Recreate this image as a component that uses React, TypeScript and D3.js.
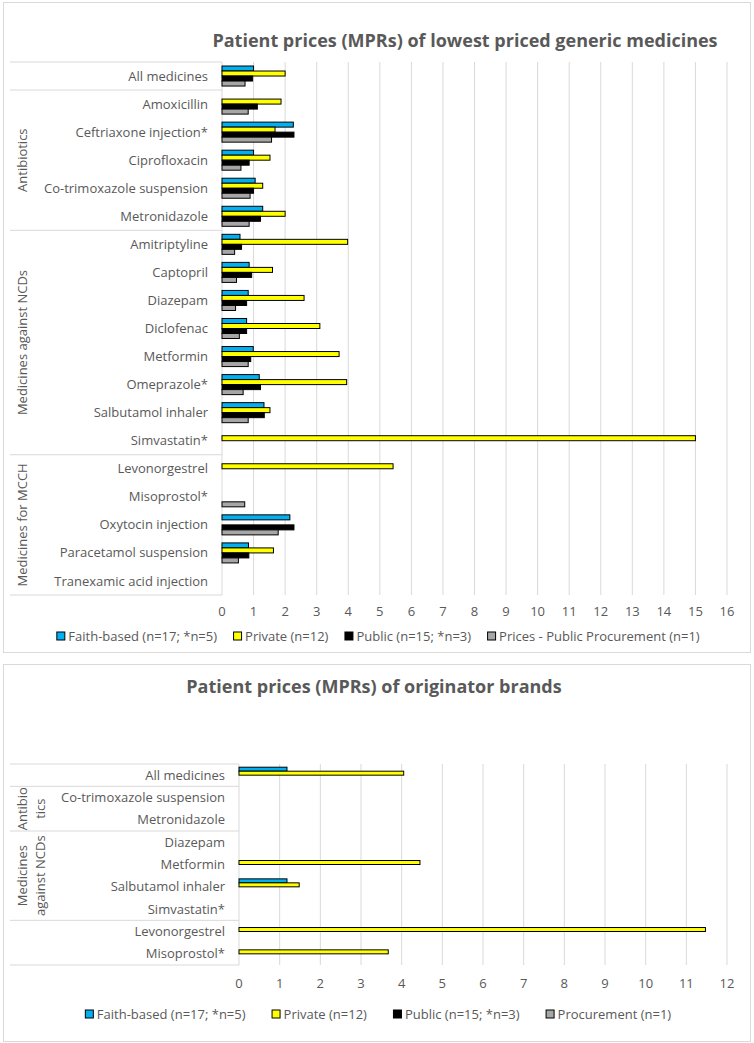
import React from "react";
import * as d3 from "d3";

// ---------- DATA ----------
const genericCategories = [
  "All medicines", "Amoxicillin", "Ceftriaxone injection*", "Ciprofloxacin",
  "Co-trimoxazole suspension", "Metronidazole", "Amitriptyline", "Captopril",
  "Diazepam", "Diclofenac", "Metformin", "Omeprazole*", "Salbutamol inhaler",
  "Simvastatin*", "Levonorgestrel", "Misoprostol*", "Oxytocin injection",
  "Paracetamol suspension", "Tranexamic acid injection",
];
const genericFaith = [1.0, null, 2.26, 1.0, 1.05, 1.29, 0.57, 0.86, 0.83, 0.78, 0.99, 1.18, 1.33, null, null, null, 2.15, 0.84, null];
const genericPrivate = [2.0, 1.87, 1.68, 1.52, 1.29, 2.0, 3.98, 1.6, 2.6, 3.1, 3.71, 3.95, 1.52, 15.0, 5.42, null, null, 1.63, null];
const genericPublic = [0.97, 1.12, 2.28, 0.86, 1.0, 1.22, 0.62, 0.94, 0.78, 0.78, 0.91, 1.22, 1.34, null, null, null, 2.28, 0.85, null];
const genericProcurement = [0.73, 0.83, 1.57, 0.6, 0.89, 0.86, 0.4, 0.46, 0.43, 0.55, 0.83, 0.67, 0.83, null, null, 0.72, 1.78, 0.52, null];
const genericGroups = [
  { lines: [] as string[], from: 0, to: 1 },
  { lines: ["Antibiotics"], from: 1, to: 6 },
  { lines: ["Medicines against NCDs"], from: 6, to: 14 },
  { lines: ["Medicines for MCCH"], from: 14, to: 19 },
];
const genericTicks = d3.range(0, 17);
const genericLegend = ["Faith-based (n=17; *n=5)", "Private (n=12)", "Public (n=15; *n=3)", "Prices - Public Procurement (n=1)"];

const brandCategories = [
  "All medicines", "Co-trimoxazole suspension", "Metronidazole", "Diazepam",
  "Metformin", "Salbutamol inhaler", "Simvastatin*", "Levonorgestrel", "Misoprostol*",
];
const brandFaith = [1.18, null, null, null, null, 1.18, null, null, null];
const brandPrivate = [4.05, null, null, null, 4.45, 1.48, null, 11.47, 3.67];
const brandPublic = [null, null, null, null, null, null, null, null, null];
const brandProcurement = [null, null, null, null, null, null, null, null, null];
const brandGroups = [
  { lines: [] as string[], from: 0, to: 1 },
  { lines: ["Antibio", "tics"], from: 1, to: 3 },
  { lines: ["Medicines", "against NCDs"], from: 3, to: 7 },
  { lines: [] as string[], from: 7, to: 9 },
];
const brandTicks = d3.range(0, 13);
const brandLegend = ["Faith-based (n=17; *n=5)", "Private (n=12)", "Public (n=15; *n=3)", "Procurement (n=1)"];

const seriesKeys = ["faith", "private", "public", "procurement"];
const seriesColors = ["#00B0F0", "#FFFF00", "#000000", "#A6A6A6"];

// ---------- STYLE ----------
const FONT = "'Open Sans', Lato, sans-serif";
const TEXT = "#595959";
const GRID = "#D9D9D9";
const FS = 13;

function measure(text: string, size: number, weight = "normal") {
  if (typeof document === "undefined") return text.length * size * 0.5;
  const c = (measure as any).c || ((measure as any).c = document.createElement("canvas"));
  const ctx = c.getContext("2d");
  ctx.font = `${weight} ${size}px 'Open Sans'`;
  return ctx.measureText(text).width;
}

type ChartProps = {
  top: number; height: number; title: string; titleX: number; titleY: number;
  categories: string[]; series: (number | null)[][]; groups: { lines: string[]; from: number; to: number }[];
  ticks: number[]; maxX: number; plotX0: number; plotX1: number; plotY0: number; plotY1: number;
  labelRight: number; groupX: number[]; tickY: number; legend: string[]; legendY: number; legendGap: number;
};

function Chart(p: ChartProps) {
  const x = d3.scaleLinear().domain([0, p.maxX]).range([p.plotX0, p.plotX1]);
  const y0 = d3.scaleBand<number>().domain(d3.range(p.categories.length)).range([p.plotY0, p.plotY1]).paddingInner(0.286).paddingOuter(0.143);
  const y1 = d3.scaleBand<string>().domain(seriesKeys).range([0, y0.bandwidth()]);
  const rowStep = y0.step();
  const boundary = (i: number) => p.plotY0 + i * rowStep;
  const labelLeft = 10;

  const sq = 8;
  const widths = p.legend.map((t) => sq + 4 + measure(t, FS));
  const total = d3.sum(widths) + p.legendGap * (p.legend.length - 1);
  let lx = 378 - total / 2;
  const legendPos = widths.map((w) => { const s = lx; lx += w + p.legendGap; return s; });

  return (
    <g transform={`translate(0,${p.top})`}>
      <rect x={3.5} y={0.5} width={747} height={p.height} fill="#fff" stroke={GRID} strokeWidth={1} />
      <text x={p.titleX} y={p.titleY} textAnchor="middle" fontFamily={FONT} fontWeight="bold" fontSize={18} fill={TEXT}>{p.title}</text>
      {p.ticks.slice(1).map((t) => (
        <line key={t} x1={x(t)} x2={x(t)} y1={p.plotY0} y2={p.plotY1} stroke={GRID} strokeWidth={1} />
      ))}
      <line x1={x(0)} x2={x(0)} y1={p.plotY0} y2={p.plotY1} stroke={GRID} strokeWidth={1} />
      {[0, ...p.groups.map((g) => g.to)].map((i) => (
        <line key={"s" + i} x1={labelLeft} x2={x(0)} y1={boundary(i)} y2={boundary(i)} stroke={GRID} strokeWidth={1} />
      ))}
      {p.categories.map((c, i) => (
        <text key={c} x={p.labelRight} y={(y0(i) as number) + y0.bandwidth() / 2} dy="0.35em" textAnchor="end" fontFamily={FONT} fontSize={FS} fill={TEXT}>{c}</text>
      ))}
      {p.groups.map((g, gi) => {
        const cy = (boundary(g.from) + boundary(g.to)) / 2;
        return g.lines.map((ln, li) => (
          <text key={gi + "-" + li} transform={`translate(${p.groupX[li]},${cy}) rotate(-90)`} dy="0.35em" textAnchor="middle" fontFamily={FONT} fontSize={FS} fill={TEXT}>{ln}</text>
        ));
      })}
      {p.categories.map((c, i) => (
        <g key={"b" + i}>
          {p.series.map((vals, si) => {
            const v = vals[i];
            if (v == null) return null;
            return (
              <rect key={si} x={x(0)} y={(y0(i) as number) + (y1(seriesKeys[si]) as number)} width={x(v) - x(0)} height={y1.bandwidth()}
                fill={seriesColors[si]} stroke="#000" strokeWidth={1} />
            );
          })}
        </g>
      ))}
      {p.ticks.map((t) => (
        <text key={"t" + t} x={x(t)} y={p.tickY} dy="0.35em" textAnchor="middle" fontFamily={FONT} fontSize={FS} fill={TEXT}>{t}</text>
      ))}
      {p.legend.map((t, i) => (
        <g key={"l" + i} transform={`translate(${legendPos[i]},${p.legendY})`}>
          <rect x={0.5} y={-sq / 2} width={sq} height={sq} fill={seriesColors[i]} stroke="#000" strokeWidth={1} />
          <text x={sq + 4} y={0} dy="0.35em" fontFamily={FONT} fontSize={FS} fill={TEXT}>{t}</text>
        </g>
      ))}
    </g>
  );
}

export default function App() {
  return (
    <svg width={754} height={1043} style={{ display: "block", position: "absolute", left: 0, top: 0 }}>
      <rect width={754} height={1043} fill="#fff" />
      <Chart
        top={2} height={650} title="Patient prices (MPRs) of lowest priced generic medicines" titleX={465} titleY={45}
        categories={genericCategories} series={[genericFaith, genericPrivate, genericPublic, genericProcurement]}
        groups={genericGroups} ticks={genericTicks} maxX={16}
        plotX0={222} plotX1={727} plotY0={60} plotY1={593}
        labelRight={208} groupX={[22]} tickY={609} legend={genericLegend} legendY={634} legendGap={16}
      />
      <Chart
        top={664} height={377} title="Patient prices (MPRs) of originator brands" titleX={374} titleY={29}
        categories={brandCategories} series={[brandFaith, brandPrivate, brandPublic, brandProcurement]}
        groups={brandGroups} ticks={brandTicks} maxX={12}
        plotX0={239} plotX1={727} plotY0={100} plotY1={301}
        labelRight={225} groupX={[22, 40]} tickY={319} legend={brandLegend} legendY={350} legendGap={26}
      />
    </svg>
  );
}
